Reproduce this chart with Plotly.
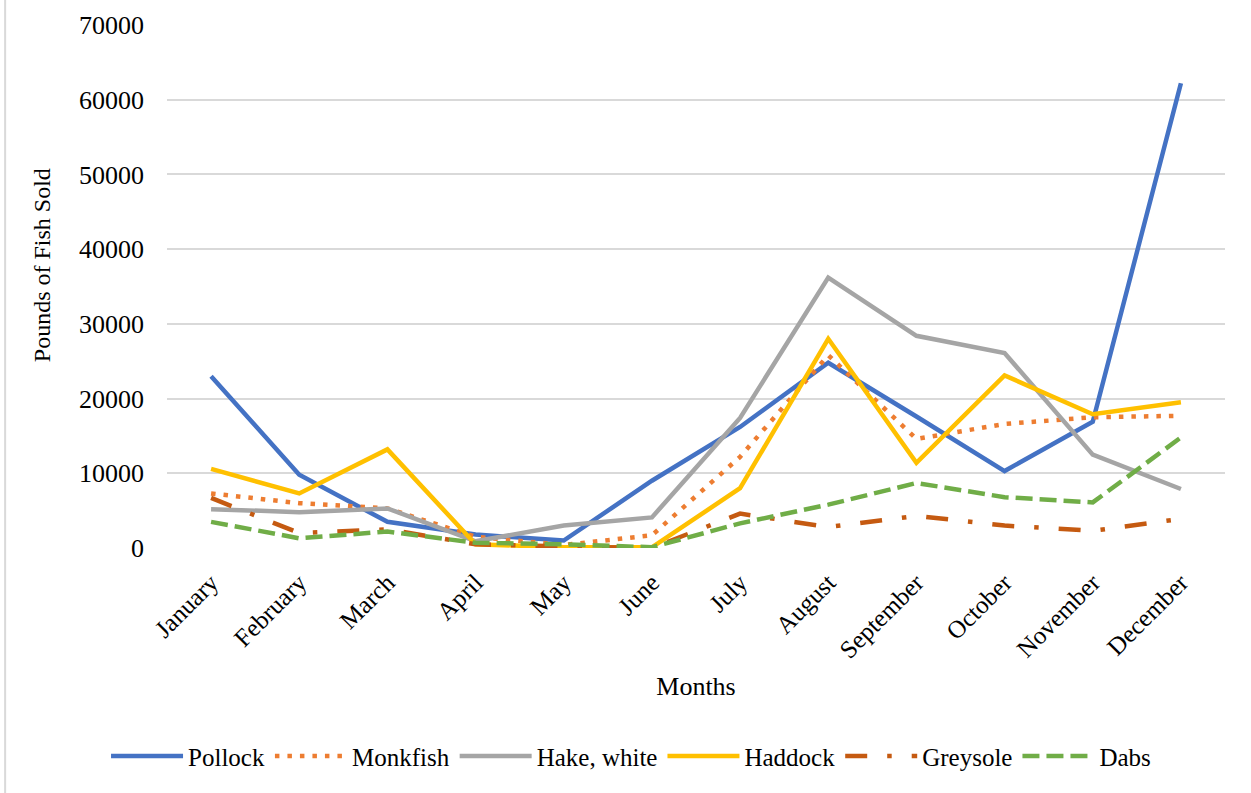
import plotly.graph_objects as go

# Monthly landings, pounds of fish sold
months = ["January", "February", "March", "April", "May", "June",
          "July", "August", "September", "October", "November", "December"]

pollock = [23000, 9800, 3500, 1800, 1000, 9000, 16200, 24800, 17600, 10300, 16900, 62200]
monkfish = [7300, 6000, 5300, 1500, 400, 1700, 12200, 25800, 14600, 16600, 17500, 17700]
hake_white = [5200, 4800, 5300, 900, 3000, 4100, 17400, 36200, 28400, 26100, 12500, 7900]
haddock = [10600, 7300, 13200, 500, 100, 100, 8000, 28000, 11400, 23100, 17900, 19500]
greysole = [6700, 2000, 2500, 500, 200, 0, 4600, 2800, 4300, 3000, 2300, 3900]
dabs = [3500, 1300, 2200, 700, 500, 100, 3300, 5800, 8700, 6800, 6100, 14800]

y_ticks = [0, 10000, 20000, 30000, 40000, 50000, 60000, 70000]

FONT = "Liberation Serif"
LW = 4.5

series = [
    ("Pollock", pollock, "#4472C4", "solid"),
    ("Monkfish", monkfish, "#ED7D31", "4.5px,8px"),
    ("Hake, white", hake_white, "#A5A5A5", "solid"),
    ("Haddock", haddock, "#FFC000", "solid"),
    ("Greysole", greysole, "#C55A11", "22px,20px,4.5px,20px"),
    ("Dabs", dabs, "#70AD47", "17px,7px"),
]

fig = go.Figure()
for name, values, color, dash in series:
    fig.add_trace(go.Scatter(
        x=months, y=values, name=name, mode="lines",
        line=dict(color=color, width=LW, dash=dash),
    ))

fig.update_layout(
    width=1251, height=793,
    margin=dict(l=167, r=26, t=25, b=245, autoexpand=False),
    paper_bgcolor="white", plot_bgcolor="white",
    font=dict(family=FONT, size=24, color="#000000"),
    showlegend=True,
    legend=dict(
        orientation="h", x=0.4386, xanchor="center",
        y=-0.398, yanchor="middle",
        font=dict(family=FONT, size=25, color="#000000"),
        itemwidth=72, tracegroupgap=0,
    ),
    shapes=[dict(
        type="line", xref="paper", yref="paper",
        x0=-0.153, x1=-0.153, y0=-0.47, y1=1.05,
        line=dict(color="#D9D9D9", width=2),
    )],
    annotations=[dict(
        text="Pounds of Fish Sold", textangle=-90,
        xref="paper", yref="paper", x=-0.118, y=0.541,
        xanchor="center", yanchor="middle", showarrow=False,
        font=dict(family=FONT, size=24, color="#000000"),
    )],
)

fig.update_xaxes(
    type="category", range=[-0.5, 11.5],
    showgrid=False, zeroline=False, showline=False,
    tickangle=-45, tickfont=dict(family=FONT, size=25),
    ticklabelstandoff=14,
    title=dict(text="Months", font=dict(family=FONT, size=26), standoff=14),
)
fig.update_yaxes(
    range=[0, 70000], tickvals=y_ticks, ticktext=[str(v) for v in y_ticks],
    showgrid=True, gridcolor="#D9D9D9", gridwidth=1.5,
    zeroline=False, showline=False,
    tickfont=dict(family=FONT, size=26),
    ticklabelstandoff=22,
)

fig.write_html("out.html")
